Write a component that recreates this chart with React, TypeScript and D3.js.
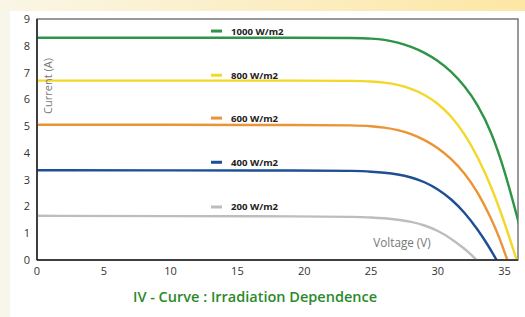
import React from "react";
import * as d3 from "d3";

const seriesNames = ["1000 W/m2", "800 W/m2", "600 W/m2", "400 W/m2", "200 W/m2"];
const seriesColors = ["#2e9447", "#f3d82a", "#ea9435", "#1e4f94", "#bdbdbd"];

const voltagesGreen = [0, 10, 20, 24, 25, 26, 27, 28, 29, 30, 31, 32, 33, 34, 35, 36, 36.4];
const currentGreen = [8.3, 8.3, 8.3, 8.29, 8.27, 8.23, 8.13, 7.97, 7.75, 7.45, 7.05, 6.5, 5.8, 4.8, 3.35, 1.5, 0.7];
const voltagesYellow = [0, 10, 20, 24, 25, 26, 27, 28, 29, 30, 31, 32, 33, 34, 35, 35.9];
const currentYellow = [6.7, 6.7, 6.7, 6.69, 6.67, 6.63, 6.55, 6.4, 6.18, 5.85, 5.38, 4.72, 3.85, 2.75, 1.4, 0];
const voltagesOrange = [0, 10, 20, 24, 25, 26, 27, 28, 29, 30, 31, 32, 33, 34, 34.6, 35.2];
const currentOrange = [5.05, 5.05, 5.04, 5.03, 5.0, 4.95, 4.86, 4.71, 4.49, 4.19, 3.79, 3.25, 2.53, 1.55, 0.85, 0];
const voltagesBlue = [0, 10, 20, 24, 25, 26, 27, 28, 29, 30, 31, 32, 33, 33.7, 34.4];
const currentBlue = [3.35, 3.35, 3.34, 3.33, 3.3, 3.26, 3.2, 3.09, 2.92, 2.65, 2.28, 1.78, 1.13, 0.6, 0];
const voltagesGray = [0, 10, 20, 24, 25, 26, 27, 28, 29, 30, 31, 32, 32.5, 32.9];
const currentGray = [1.65, 1.64, 1.63, 1.61, 1.59, 1.56, 1.51, 1.43, 1.3, 1.1, 0.8, 0.42, 0.2, 0];

const seriesV = [voltagesGreen, voltagesYellow, voltagesOrange, voltagesBlue, voltagesGray];
const seriesI = [currentGreen, currentYellow, currentOrange, currentBlue, currentGray];
const legendY = [8.55, 6.9, 5.3, 3.65, 1.98];

const xTicks = [0, 5, 10, 15, 20, 25, 30, 35];
const yTicks = [0, 1, 2, 3, 4, 5, 6, 7, 8, 9];

export default function App() {
  const W = 525, H = 317;
  const x = d3.scaleLinear().domain([0, 36]).range([37, 518]);
  const y = d3.scaleLinear().domain([0, 9]).range([260, 19]);
  const line = d3
    .line<[number, number]>()
    .x((d) => x(d[0]))
    .y((d) => y(d[1]))
    .curve(d3.curveBasis);
  const font = "'Open Sans', sans-serif";
  return (
    <svg width={W} height={H} style={{ position: "absolute", left: 0, top: 0 }}>
      <defs>
        <linearGradient id="topband" x1="0" x2="1" y1="0" y2="0">
          <stop offset="0" stopColor="#faf6e6" />
          <stop offset="1" stopColor="#fde7a4" />
        </linearGradient>
        <clipPath id="plotclip">
          <rect x={37} y={19} width={481} height={241} />
        </clipPath>
      </defs>
      <rect x={0} y={0} width={W} height={H} fill="#f8f6ea" />
      <rect x={0} y={0} width={W} height={11} fill="url(#topband)" />
      <rect x={10} y={11} width={W - 10} height={H - 11} fill="#ffffff" />
      <rect x={37} y={19} width={481} height={241} fill="none" stroke="#555" strokeWidth={1.2} />
      <g clipPath="url(#plotclip)">
        {seriesV.map((vs, i) => (
          <path
            key={i}
            d={line(vs.map((v, j) => [v, seriesI[i][j]] as [number, number])) || ""}
            fill="none"
            stroke={seriesColors[i]}
            strokeWidth={2.4}
          />
        ))}
      </g>
      <line x1={37} x2={518} y1={260} y2={260} stroke="#222" strokeWidth={1.5} />
      <line x1={37} x2={37} y1={19} y2={260} stroke="#222" strokeWidth={1.5} />
      {xTicks.map((t) => (
        <text key={t} x={x(t)} y={275} textAnchor="middle" fontFamily={font} fontSize={11} fill="#333">
          {t}
        </text>
      ))}
      {yTicks.map((t) => (
        <text key={t} x={30} y={y(t) + 4} textAnchor="end" fontFamily={font} fontSize={11} fill="#333">
          {t}
        </text>
      ))}
      {seriesNames.map((n, i) => (
        <g key={n}>
          <line x1={211} x2={222} y1={y(legendY[i])} y2={y(legendY[i])} stroke={seriesColors[i]} strokeWidth={3} />
          <text x={231} y={y(legendY[i]) + 3.5} fontFamily={font} fontSize={9.6} fontWeight={700} fill="#222">
            {n}
          </text>
        </g>
      ))}
      <text
        transform={`translate(52,${86}) rotate(-90)`}
        textAnchor="middle"
        fontFamily={font}
        fontSize={11}
        fill="#777"
      >
        Current (A)
      </text>
      <text x={402} y={247} textAnchor="middle" fontFamily={font} fontSize={11.7} fill="#777">
        Voltage (V)
      </text>
      <text x={255} y={302} textAnchor="middle" fontFamily={font} fontSize={14.5} fontWeight={600} fill="#2a8a2a">
        IV - Curve : Irradiation Dependence
      </text>
    </svg>
  );
}
